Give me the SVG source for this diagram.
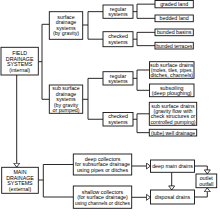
<svg xmlns="http://www.w3.org/2000/svg" width="220" height="222" viewBox="0 0 220 222">
<style>
.b{fill:#fff;stroke:#111;stroke-width:0.9}
.t{font-family:"Liberation Sans",Arial,sans-serif;font-size:5.3px;text-anchor:middle;fill:#000}
.c{fill:none;stroke:#111;stroke-width:0.9}
</style>
<defs>
<marker id="ah" viewBox="0 0 5 7" refX="4.6" refY="3.5" markerWidth="5" markerHeight="7" markerUnits="userSpaceOnUse" orient="auto">
<path d="M0.5,0.5 L4.5,3.5 L0.5,6.5 Z" fill="#fff" stroke="#111" stroke-width="0.8"/>
</marker>
</defs>
<rect width="220" height="222" fill="#fff"/>
<g id="connectors">
<path class="c" d="M38.3,61.7H42M42,24.3V99.3M42,24.3H49.3M42,99.3H49.3"/>
<path class="c" d="M82.7,25H88M88,11.65V39.2M88,11.65H103M88,39.2H103"/>
<path class="c" d="M133,11.65H137M137,4.15V18.35M137,4.15H155M137,18.35H155"/>
<path class="c" d="M133,39.2H137M137,32.35V45.65M137,32.35H155M137,45.65H155"/>
<path class="c" d="M82.7,99.3H88M88,78.35V119.25M88,78.35H103M88,119.25H103"/>
<path class="c" d="M133,78.35H137M137,70V90.3M137,70H149.5M137,90.3H149.5"/>
<path class="c" d="M133,119.25H137M137,113.8V132.65M137,113.8H149.3M137,132.65H149.3"/>
<path class="c" d="M16.7,75V167.3" marker-end="url(#ah)"/>
<path class="c" d="M38.3,180H43.3M43.3,164.5V197M43.3,164.5H73.3M43.3,197H73.3"/>
<path class="c" d="M131.7,166H150.5" marker-end="url(#ah)"/>
<path class="c" d="M131.7,197.3H150.5" marker-end="url(#ah)"/>
<path class="c" d="M171.7,172.3V190" marker-end="url(#ah)"/>
<path class="c" d="M194.5,166H207.3V174" marker-end="url(#ah)"/>
<path class="c" d="M194.5,197H207.3V187.7" marker-end="url(#ah)"/>
</g>
<g id="field"><rect class="b" x="1" y="47.3" width="37.3" height="27.7"/>
<text class="t" x="19.65" y="55.2">FIELD</text><text class="t" x="19.65" y="60.7">DRAINAGE</text><text class="t" x="19.65" y="66.2">SYSTEMS</text><text class="t" x="19.65" y="71.7">(internal)</text></g>
<g id="surface"><rect class="b" x="49.3" y="11.7" width="33.4" height="27.6"/>
<text class="t" x="66" y="18.7">surface</text><text class="t" x="66" y="24.2">drainage</text><text class="t" x="66" y="29.7">systems</text><text class="t" x="66" y="35.2">(by gravity)</text></g>
<g id="regular1"><rect class="b" x="103" y="5" width="30" height="13.3"/>
<text class="t" x="118" y="10.8">regular</text><text class="t" x="118" y="16.3">systems</text></g>
<g id="checked1"><rect class="b" x="103" y="31.7" width="30" height="15"/>
<text class="t" x="118" y="38.4">checked</text><text class="t" x="118" y="43.9">systems</text></g>
<g id="graded"><rect class="b" x="155" y="0.5" width="38.3" height="7.3"/>
<text class="t" x="174.15" y="6">graded land</text></g>
<g id="bedded"><rect class="b" x="155" y="15" width="38.3" height="6.7"/>
<text class="t" x="174.15" y="20.2">bedded land</text></g>
<g id="basins"><rect class="b" x="155" y="29" width="38.3" height="6.7"/>
<text class="t" x="174.15" y="34.2">bunded basins</text></g>
<g id="terraces"><rect class="b" x="155" y="42.3" width="38.3" height="6.7"/>
<text class="t" x="174.15" y="47.5" textLength="36" lengthAdjust="spacingAndGlyphs">bunded terraces</text></g>
<g id="subsurface"><rect class="b" x="49.3" y="85" width="33.4" height="28.3"/>
<text class="t" x="66" y="90">sub surface</text><text class="t" x="66" y="95.5">drainage</text><text class="t" x="66" y="101">systems</text><text class="t" x="66" y="106.5">(by gravity</text><text class="t" x="66" y="112">or pumped)</text></g>
<g id="regular2"><rect class="b" x="103" y="71.7" width="30" height="13.3"/>
<text class="t" x="118" y="77.5">regular</text><text class="t" x="118" y="83">systems</text></g>
<g id="checked2"><rect class="b" x="103" y="112.5" width="30" height="13.5"/>
<text class="t" x="118" y="118.4">checked</text><text class="t" x="118" y="123.9">systems</text></g>
<g id="drains"><rect class="b" x="149.5" y="61.7" width="44.5" height="16.6"/>
<text class="t" x="171.75" y="66.9">sub surface drains</text><text class="t" x="171.75" y="71.9" textLength="42" lengthAdjust="spacingAndGlyphs">(moles, tiles, pipes,</text><text class="t" x="171.75" y="76.9">ditches, channels)</text></g>
<g id="subsoiling"><rect class="b" x="149.5" y="84" width="44.5" height="12.7"/>
<text class="t" x="171.75" y="89.5">subsoiling</text><text class="t" x="171.75" y="95">(deep ploughing)</text></g>
<g id="gravity"><rect class="b" x="149.3" y="102.3" width="47.4" height="23"/>
<text class="t" x="173" y="107.7">sub surface drains</text><text class="t" x="173" y="113">(gravity flow with</text><text class="t" x="173" y="118.3">check structures or</text><text class="t" x="173" y="123.6" textLength="45" lengthAdjust="spacingAndGlyphs">controlled pumping)</text></g>
<g id="tubewell"><rect class="b" x="149.3" y="129.3" width="47.4" height="6.7"/>
<text class="t" x="173" y="134.5" textLength="44" lengthAdjust="spacingAndGlyphs">(tube) well drainage</text></g>
<g id="main"><rect class="b" x="1.7" y="167.3" width="36.6" height="26"/>
<text class="t" x="20" y="174">MAIN</text><text class="t" x="20" y="179.5">DRAINAGE</text><text class="t" x="20" y="185">SYSTEMS</text><text class="t" x="20" y="190.5">(external)</text></g>
<g id="deep"><rect class="b" x="73.3" y="154" width="58.4" height="21"/>
<text class="t" x="102.5" y="160.9">deep collectors</text><text class="t" x="102.5" y="166.4" textLength="55" lengthAdjust="spacingAndGlyphs">for subsurface drainage</text><text class="t" x="102.5" y="171.9">using pipes or ditches</text></g>
<g id="shallow"><rect class="b" x="73.3" y="186" width="58.4" height="22.3"/>
<text class="t" x="102.5" y="193.5">shallow collectors</text><text class="t" x="102.5" y="199">(for surface drainage)</text><text class="t" x="102.5" y="204.5" textLength="55" lengthAdjust="spacingAndGlyphs">using channels or ditches</text></g>
<g id="deepmain"><rect class="b" x="150.5" y="160" width="44" height="12.3"/>
<text class="t" x="172.5" y="168">deep main drains</text></g>
<g id="disposal"><rect class="b" x="150.5" y="190" width="44" height="14"/>
<text class="t" x="172.5" y="198.9">disposal drains</text></g>
<g id="outlet"><rect class="b" x="196" y="174" width="20.7" height="13.7"/>
<text class="t" x="206.35" y="180">outlet</text><text class="t" x="206.35" y="185.5">outfall</text></g>
</svg>
